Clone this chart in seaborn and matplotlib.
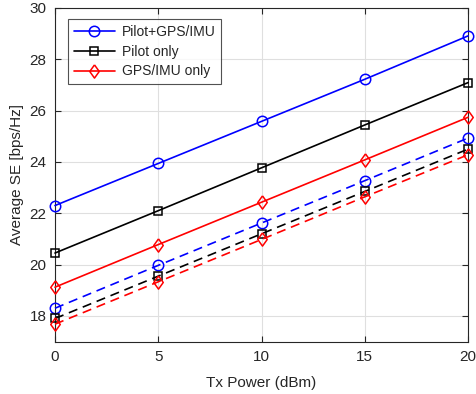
import matplotlib

matplotlib.use("Agg")

import matplotlib.pyplot as plt
import pandas as pd
import seaborn as sns

tx_power = [0, 5, 10, 15, 20]

# solid curves (shown in legend)
pilot_gps_imu = [22.3, 23.94, 25.58, 27.22, 28.91]
pilot_only = [20.45, 22.1, 23.77, 25.44, 27.09]
gps_imu_only = [19.12, 20.78, 22.43, 24.08, 25.74]

# dashed curves (same schemes, second setting)
pilot_gps_imu_dash = [18.3, 19.97, 21.62, 23.27, 24.93]
pilot_only_dash = [17.9, 19.55, 21.2, 22.85, 24.5]
gps_imu_only_dash = [17.68, 19.33, 20.98, 22.64, 24.28]

labels = ["Pilot+GPS/IMU", "Pilot only", "GPS/IMU only"]
colors = ["#0000ff", "#000000", "#ff0000"]
# matlab-style diamond: a bit narrower than it is tall
diamond = [(0, 1), (0.72, 0), (0, -1), (-0.72, 0), (0, 1)]
markers = ["o", "s", diamond]
marker_sizes = [7.5, 6.3, 9.5]

sns.set_theme(style="white")
plt.rcParams["font.family"] = ["Liberation Sans", "DejaVu Sans"]

fig = plt.figure(figsize=(4.76, 3.94), dpi=100)
ax = fig.add_axes([0.1155, 0.133, 0.868, 0.847])

solid = [pilot_gps_imu, pilot_only, gps_imu_only]
dashed = [pilot_gps_imu_dash, pilot_only_dash, gps_imu_only_dash]

for vals, lab, c, m, ms in zip(solid, labels, colors, markers, marker_sizes):
    df = pd.DataFrame({"x": tx_power, "y": vals})
    sns.lineplot(data=df, x="x", y="y", ax=ax, color=c, marker=m, markersize=ms,
                 markerfacecolor="none", markeredgecolor=c, markeredgewidth=1.1,
                 linewidth=1.2, label=lab, clip_on=False, zorder=3)

for vals, c, m, ms in zip(dashed, colors, markers, marker_sizes):
    df = pd.DataFrame({"x": tx_power, "y": vals})
    sns.lineplot(data=df, x="x", y="y", ax=ax, color=c, marker=m, markersize=ms,
                 markerfacecolor="none", markeredgecolor=c, markeredgewidth=1.1,
                 linewidth=1.2, linestyle=(0, (5.5, 3.5)), legend=False,
                 clip_on=False, zorder=3)

ax.set_xlim(0, 20)
ax.set_ylim(17, 30)
ax.set_xticks([0, 5, 10, 15, 20])
ax.set_yticks([18, 20, 22, 24, 26, 28, 30])
ax.grid(True, color="#dfdfdf", linewidth=0.8)
ax.set_axisbelow(True)
for s in ax.spines.values():
    s.set_color("#262626")
    s.set_linewidth(0.8)
    s.set_visible(True)
ax.tick_params(direction="in", length=4, width=0.8, colors="#262626",
               labelsize=11, top=True, right=True, bottom=True, left=True, pad=6)
ax.set_xlabel("Tx Power (dBm)", fontsize=11, color="#262626", labelpad=9)
ax.set_ylabel("Average SE [bps/Hz]", fontsize=11, color="#262626")

leg = ax.legend(loc="upper left", bbox_to_anchor=(0.031, 0.967), fontsize=10,
                frameon=True, fancybox=False, edgecolor="#262626",
                borderpad=0.42, labelspacing=0.42, handlelength=3.0,
                handletextpad=0.45, borderaxespad=0)
leg.get_frame().set_linewidth(0.8)

plt.savefig("out.png", dpi=100)
plt.close()
